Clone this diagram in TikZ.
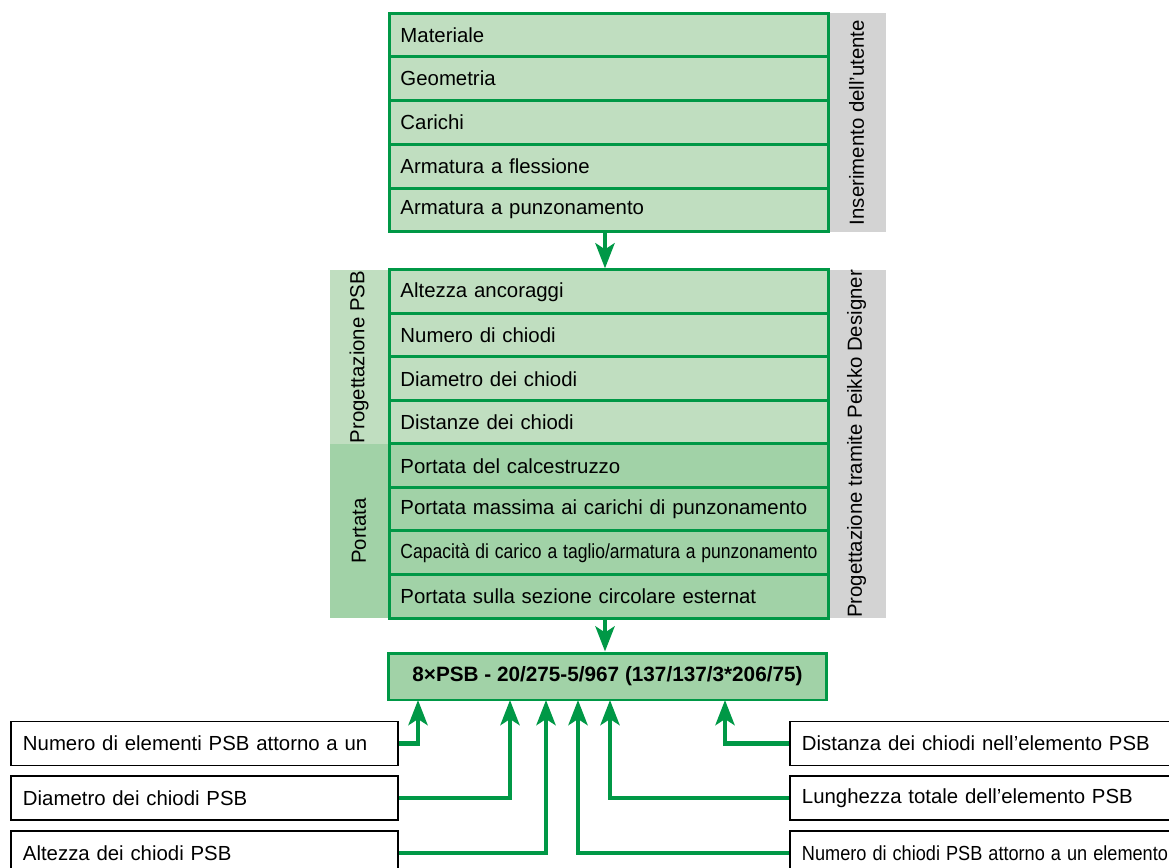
\documentclass[tikz,border=0pt]{standalone}
\usepackage{fontspec}
\setmainfont{Liberation Sans}
\usepackage{tikz}
\usetikzlibrary{arrows.meta,positioning}

\definecolor{pgreen}{RGB}{0,152,70}
\definecolor{lgreen}{RGB}{192,222,192}
\definecolor{dgreen}{RGB}{161,210,167}
\definecolor{sidegray}{RGB}{211,211,211}

\newcommand{\narrowtext}[2][0.89]{\scalebox{#1}[1]{#2}}

\begin{document}
\begin{tikzpicture}[
  x=0.02cm, y=-0.02cm,
  font=\fontsize{11.6}{14}\selectfont,
  row/.style={rectangle, draw=pgreen, line width=1.7pt, fill=lgreen, anchor=west, minimum width=8.78cm, minimum height=0.875cm, text width=8.34cm, inner xsep=0.22cm, align=left},
  drow/.style={row, fill=dgreen},
  side/.style={rectangle, fill=sidegray, rotate=90, minimum height=1.18cm, inner sep=0pt},
  group/.style={rectangle, rotate=90, minimum height=1.16cm, minimum width=3.48cm, inner sep=0pt},
  result/.style={rectangle, draw=pgreen, line width=1.7pt, fill=dgreen, minimum width=8.78cm, minimum height=0.94cm, font=\fontsize{11.8}{14}\selectfont\bfseries},
  infobox/.style={rectangle, draw=black, line width=1.1pt, fill=white, anchor=west, minimum height=0.88cm, text width=7.26cm, inner xsep=0.24cm, align=left},
  link/.style={-{Stealth[length=0.5cm, width=0.38cm, inset=0.12cm]}, draw=pgreen, line width=2.7pt, line join=miter},
]
  \useasboundingbox (0,0) rectangle (1169,868);
  \clip (0,0) rectangle (1169,868);

  % side labels (gray)
  \node[side, minimum width=4.38cm] (user) at (856.5,122.5) {Inserimento dell’utente};
  \node[side, minimum width=6.96cm] (tool) at (856.5,444) {Progettazione tramite Peikko Designer};

  % user input
  \node[row] (in1) at (388,34.9) {Materiale};
  \node[row] (in2) at (388,78.7) {Geometria};
  \node[row] (in3) at (388,122.5) {Carichi};
  \node[row] (in4) at (388,166.3) {Armatura a flessione};
  \node[row] (in5) at (388,210.1) {Armatura a punzonamento};

  % PSB design and capacity
  \node[group, fill=lgreen] (psb) at (359,357) {Progettazione PSB};
  \node[group, fill=dgreen] (cap) at (359,531) {Portata};
  \node[row] (pr1) at (388,291.75) {Altezza ancoraggi};
  \node[row] (pr2) at (388,335.25) {Numero di chiodi};
  \node[row] (pr3) at (388,378.75) {Diametro dei chiodi};
  \node[row] (pr4) at (388,422.25) {Distanze dei chiodi};
  \node[drow] (pr5) at (388,465.75) {Portata del calcestruzzo};
  \node[drow] (pr6) at (388,509.25) {Portata massima ai carichi di punzonamento};
  \node[drow] (pr7) at (388,552.75) {\narrowtext[0.86]{Capacità di carico a taglio/armatura a punzonamento}};
  \node[drow] (pr8) at (388,596.25) {Portata sulla sezione circolare esternat};

  % result code
  \node[result] (res) at (607.5,676.5) {8×PSB - 20/275-5/967 (137/137/3*206/75)};

  \coordinate (d1) at (605,232);
  \coordinate (d2) at (605,618);
  \draw[link] (d1) -- (d1 |- pr1.north);
  \draw[link] (d2) -- (d2 |- res.north);

  % explanations (left)
  \node[infobox] (l1) at (10,743.5) {Numero di elementi PSB attorno a un};
  \node[infobox] (l2) at (10,798) {Diametro dei chiodi PSB};
  \node[infobox] (l3) at (10,853) {Altezza dei chiodi PSB};

  % explanations (right)
  \node[infobox, text width=7.56cm] (r1) at (789,743.5) {Distanza dei chiodi nell’elemento PSB};
  \node[infobox, text width=7.56cm] (r2) at (789,798) {Lunghezza totale dell’elemento PSB};
  \node[infobox, text width=7.56cm] (r3) at (789,853) {\narrowtext{Numero di chiodi PSB attorno a un elemento}};

  % where each part of the code points
  \coordinate (t1) at (418,700);
  \coordinate (t2) at (510,700);
  \coordinate (t3) at (546,700);
  \coordinate (t4) at (578,700);
  \coordinate (t5) at (610,700);
  \coordinate (t6) at (725,700);

  \draw[link] (l1.east) -| (t1);
  \draw[link] (l2.east) -| (t2);
  \draw[link] (l3.east) -| (t3);
  \draw[link] (r3.west) -| (t4);
  \draw[link] (r2.west) -| (t5);
  \draw[link] (r1.west) -| (t6);
\end{tikzpicture}
\end{document}
